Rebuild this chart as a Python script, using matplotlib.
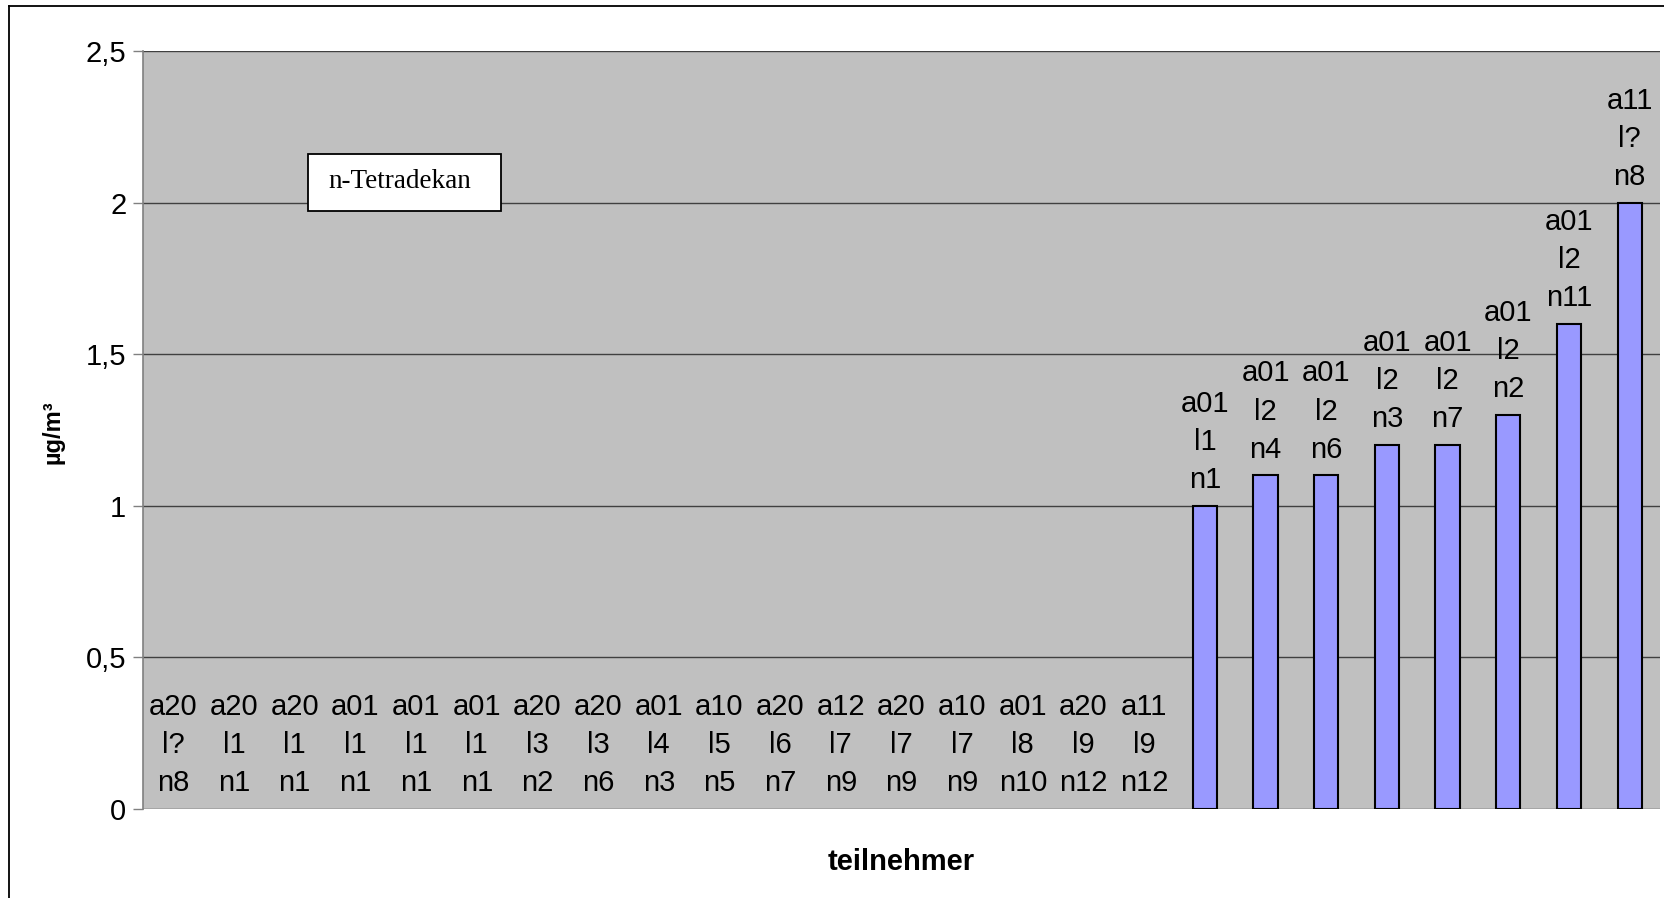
import matplotlib
matplotlib.use("Agg")
import matplotlib.pyplot as plt
from matplotlib.lines import Line2D
from matplotlib.patches import Rectangle

# ---- data ----
participants = ["a20\nl?\nn8", "a20\nl1\nn1", "a20\nl1\nn1", "a01\nl1\nn1", "a01\nl1\nn1",
                "a01\nl1\nn1", "a20\nl3\nn2", "a20\nl3\nn6", "a01\nl4\nn3", "a10\nl5\nn5",
                "a20\nl6\nn7", "a12\nl7\nn9", "a20\nl7\nn9", "a10\nl7\nn9", "a01\nl8\nn10",
                "a20\nl9\nn12", "a11\nl9\nn12", "a01\nl1\nn1", "a01\nl2\nn4", "a01\nl2\nn6",
                "a01\nl2\nn3", "a01\nl2\nn7", "a01\nl2\nn2", "a01\nl2\nn11", "a11\nl?\nn8"]
values = [0, 0, 0, 0, 0, 0, 0, 0, 0, 0, 0, 0, 0, 0, 0, 0, 0,
          1.0, 1.1, 1.1, 1.2, 1.2, 1.3, 1.6, 2.0]
yticks = [0, 0.5, 1, 1.5, 2, 2.5]
ytick_labels = ["0", "0,5", "1", "1,5", "2", "2,5"]
title_text = "n-Tetradekan"
xlabel = "teilnehmer"
ylabel = "µg/m³"

plt.rcParams['font.family'] = ['Liberation Sans', 'DejaVu Sans']

W, H = 1665, 898
fig = plt.figure(figsize=(W / 100, H / 100), dpi=100)
ax = fig.add_axes([143 / W, (H - 809) / H, (1660 - 143) / W, (809 - 51) / H])
ax.set_facecolor("#C0C0C0")

x = list(range(len(values)))
edges = ["black" if v > 0 else "none" for v in values]
ax.bar(x, values, width=0.4, color="#9999FF", edgecolor=edges, linewidth=1.5, zorder=3)

for xi, v, lab in zip(x, values, participants):
    ax.annotate(lab, (xi, v), xytext=(0, 8.5), textcoords="offset points",
                ha="center", va="bottom", fontsize=21, linespacing=1.46,
                color="black", zorder=4)

ax.set_xlim(-0.5, len(values) - 0.5)
ax.set_ylim(0, 2.5)
ax.set_yticks(yticks)
ax.set_yticklabels(ytick_labels, fontsize=21)
ax.set_xticks([])
ax.yaxis.grid(True, color="#404040", linewidth=1.0, zorder=1)
ax.set_axisbelow(True)
ax.tick_params(axis="y", direction="out", length=7, width=1, color="#808080", pad=5)
for s in ["top", "right", "bottom"]:
    ax.spines[s].set_visible(False)
ax.spines["left"].set_color("#808080")
ax.spines["left"].set_linewidth(1.2)

ax.set_xlabel(xlabel, fontsize=21, fontweight="bold", labelpad=28)
fig.text(53 / W, 1 - 432 / H, ylabel, rotation=90, fontsize=17, fontweight="bold",
         ha="center", va="center")

# text box
bx0, bx1, by0, by1 = 308, 501, 154, 211
fig.add_artist(Rectangle((bx0 / W, 1 - by1 / H), (bx1 - bx0) / W, (by1 - by0) / H,
                         transform=fig.transFigure, facecolor="white", edgecolor="black",
                         linewidth=1.3, zorder=5))
fig.text(400 / W, 1 - 181 / H, title_text,
         family=["Liberation Serif"], fontsize=19.5, ha="center", va="center", zorder=6)

# figure frame (top and left edges)
fig.add_artist(Line2D([9 / W, 1.0], [1 - 6 / H, 1 - 6 / H], transform=fig.transFigure,
                      color="black", linewidth=1.3))
fig.add_artist(Line2D([9 / W, 9 / W], [1 - 6 / H, 0], transform=fig.transFigure,
                      color="black", linewidth=1.3))

fig.savefig("out.png", dpi=100)
